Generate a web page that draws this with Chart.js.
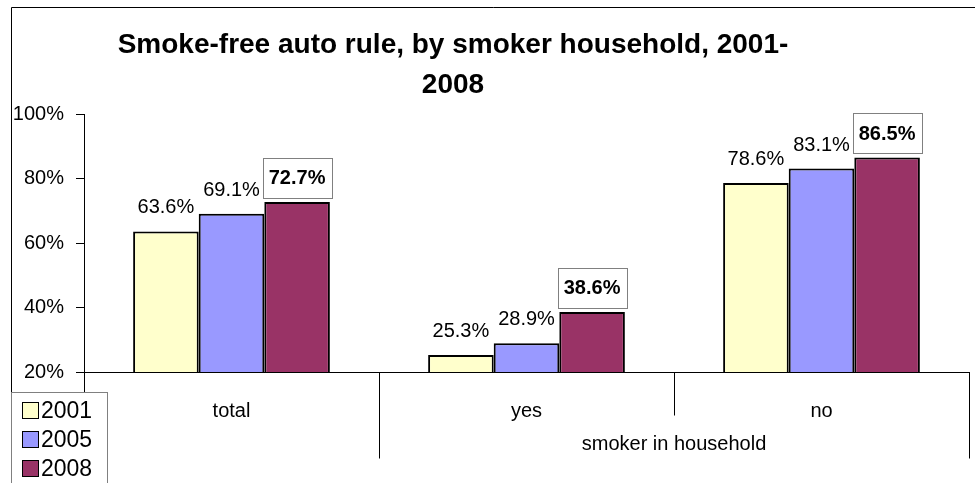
<!DOCTYPE html>
<html>
<head>
<meta charset="utf-8">
<script src="https://cdn.jsdelivr.net/npm/chart.js@4.4.1/dist/chart.umd.min.js"></script>
<style>
  html, body { margin: 0; padding: 0; background: #fff; }
</style>
</head>
<body>
<canvas id="smokeFreeChart" width="975" height="483"></canvas>
<script>
const titleLines = ['Smoke-free auto rule, by smoker household, 2001-', '2008'];
const categories = ['total', 'yes', 'no'];
const groupLabel = 'smoker in household';
const groupedCategories = ['yes', 'no'];
const years = ['2001', '2005', '2008'];
const values2001 = [63.6, 25.3, 78.6];
const values2005 = [69.1, 28.9, 83.1];
const values2008 = [72.7, 38.6, 86.5];
const yTicks = [20, 40, 60, 80, 100];

const FONT = "'Liberation Sans', Arial, sans-serif";
const pct = (v) => `${v.toFixed(1)}%`;

Chart.defaults.font.family = FONT;
Chart.defaults.color = '#000';

// frame, title, grouped category axis, value labels and legend
const decorPlugin = {
    id: 'decor',
    afterDraw(chart) {
        const { ctx, chartArea, scales: { x } } = chart;
        const half = (chartArea.right - chartArea.left) / categories.length / 2;
        const axisY = Math.round(chartArea.bottom) + 0.5;

        ctx.save();

        // outer frame
        ctx.strokeStyle = '#000';
        ctx.lineWidth = 1;
        ctx.beginPath();
        ctx.moveTo(11.5, 490);
        ctx.lineTo(11.5, 7.5);
        ctx.lineTo(980, 7.5);
        ctx.stroke();

        // title
        ctx.fillStyle = '#000';
        ctx.font = `bold 28px ${FONT}`;
        ctx.textAlign = 'center';
        ctx.textBaseline = 'alphabetic';
        ctx.fillText(titleLines[0], 453, 53);
        ctx.fillText(titleLines[1], 453, 93);

        // category dividers below the axis
        for (let k = 0; k <= categories.length; k++) {
            const bx = Math.round(k < categories.length
                ? x.getPixelForValue(k) - half
                : x.getPixelForValue(k - 1) + half) + 0.5;
            const inGroup = k > 0 && k < categories.length
                && groupedCategories.includes(categories[k - 1])
                && groupedCategories.includes(categories[k]);
            ctx.beginPath();
            ctx.moveTo(bx, axisY - 0.5);
            ctx.lineTo(bx, axisY + (inGroup ? 43 : 86));
            ctx.stroke();
        }

        // group label under the grouped categories
        const first = categories.indexOf(groupedCategories[0]);
        const last = categories.indexOf(groupedCategories[groupedCategories.length - 1]);
        const gx = (x.getPixelForValue(first) + x.getPixelForValue(last)) / 2;
        ctx.font = `20px ${FONT}`;
        ctx.textBaseline = 'middle';
        ctx.fillText(groupLabel, gx, axisY + 72);

        // value labels
        chart.data.datasets.forEach((ds, di) => {
            const meta = chart.getDatasetMeta(di);
            meta.data.forEach((bar, i) => {
                const text = pct(ds.data[i]);
                const cy = bar.y - 24.5;
                if (ds.labelBoxed) {
                    ctx.font = `bold 20px ${FONT}`;
                    const w = ctx.measureText(text).width + 12;
                    ctx.fillStyle = '#fff';
                    ctx.fillRect(Math.round(bar.x - w / 2) + 0.5, Math.round(cy - 20) + 0.5, w, 40);
                    ctx.strokeStyle = '#808080';
                    ctx.strokeRect(Math.round(bar.x - w / 2) + 0.5, Math.round(cy - 20) + 0.5, Math.round(w), 40);
                } else {
                    ctx.font = `20px ${FONT}`;
                }
                ctx.fillStyle = '#000';
                ctx.textAlign = 'center';
                ctx.textBaseline = 'middle';
                ctx.fillText(text, bar.x, cy + 1);
            });
        });

        // legend box
        ctx.fillStyle = '#fff';
        ctx.fillRect(11.5, 392.5, 96, 100);
        ctx.strokeStyle = '#808080';
        ctx.strokeRect(11.5, 392.5, 96, 100);
        ctx.font = `23px ${FONT}`;
        ctx.textAlign = 'left';
        ctx.textBaseline = 'alphabetic';
        chart.data.datasets.forEach((ds, di) => {
            const top = 402 + di * 29;
            ctx.fillStyle = ds.backgroundColor;
            ctx.fillRect(22.5, top + 0.5, 16, 16);
            ctx.strokeStyle = '#000';
            ctx.strokeRect(22.5, top + 0.5, 16, 16);
            ctx.fillStyle = '#000';
            ctx.fillText(ds.label, 41, top + 16);
        });

        ctx.restore();
    }
};

new Chart(document.getElementById('smokeFreeChart'), {
    type: 'bar',
    data: {
        labels: categories,
        datasets: [
            { label: years[0], data: values2001, backgroundColor: '#FFFFCC' },
            { label: years[1], data: values2005, backgroundColor: '#9999FF' },
            { label: years[2], data: values2008, backgroundColor: '#993366', labelBoxed: true }
        ]
    },
    options: {
        responsive: false,
        devicePixelRatio: 1,
        animation: false,
        layout: { padding: { left: 11, top: 114, right: 6, bottom: 0 } },
        datasets: {
            bar: {
                categoryPercentage: 0.667,
                barPercentage: 1,
                borderColor: '#000',
                borderWidth: 2,
                borderSkipped: false
            }
        },
        scales: {
            x: {
                grid: { display: false },
                border: { display: true, color: '#000', width: 1 },
                ticks: { font: { size: 20 }, color: '#000', padding: 19 },
                afterFit: (scale) => { scale.height = 111; }
            },
            y: {
                min: 20,
                max: 100,
                afterBuildTicks: (axis) => { axis.ticks = yTicks.map((value) => ({ value })); },
                grid: { drawOnChartArea: false, tickLength: 8, color: '#000' },
                border: { color: '#000', width: 1 },
                ticks: { font: { size: 20 }, color: '#000', padding: 12, callback: (v) => `${v}%` },
                afterFit: (scale) => { scale.width = 73; }
            }
        },
        plugins: {
            legend: { display: false },
            title: { display: false },
            tooltip: { enabled: false }
        }
    },
    plugins: [decorPlugin]
});
</script>
</body>
</html>
